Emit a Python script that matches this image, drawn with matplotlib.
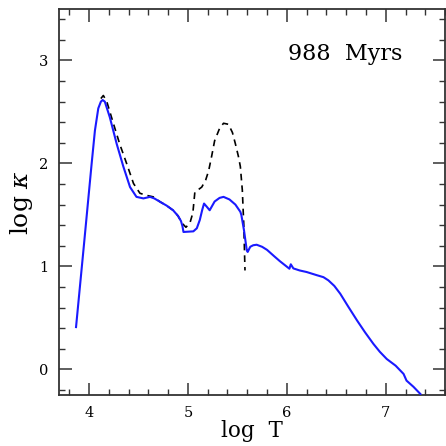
import matplotlib
matplotlib.use("Agg")
import matplotlib.pyplot as plt
from matplotlib.ticker import MultipleLocator

plt.rcParams['mathtext.fontset'] = 'dejavuserif'
plt.rcParams['font.family'] = 'DejaVu Serif'

# Blue solid curve (log T, log kappa)
blue_x = [3.869, 3.95, 4.027, 4.06, 4.094, 4.12, 4.138, 4.16, 4.21, 4.28, 4.347,
          4.415, 4.48, 4.55, 4.617, 4.66, 4.72, 4.785, 4.85, 4.9, 4.93, 4.945, 4.955,
          5.055, 5.09, 5.12, 5.145, 5.163, 5.19, 5.22, 5.27, 5.32, 5.36, 5.42, 5.48,
          5.53, 5.54, 5.567, 5.595, 5.604, 5.63, 5.66, 5.695, 5.75, 5.80, 5.87, 5.93,
          6.026, 6.04, 6.066, 6.13, 6.20, 6.30, 6.37, 6.42, 6.48, 6.54, 6.62, 6.71,
          6.79, 6.875, 6.94, 7.01, 7.10, 7.18, 7.21, 7.28, 7.35]
blue_y = [0.41, 1.22, 2.0, 2.32, 2.535, 2.6, 2.616, 2.6, 2.45, 2.19, 1.97,
          1.77, 1.675, 1.66, 1.675, 1.66, 1.626, 1.59, 1.545, 1.49, 1.44, 1.39, 1.334,
          1.34, 1.37, 1.45, 1.55, 1.61, 1.58, 1.545, 1.63, 1.665, 1.675, 1.65, 1.60,
          1.53, 1.50, 1.35, 1.156, 1.14, 1.19, 1.205, 1.21, 1.19, 1.16, 1.10, 1.05,
          0.977, 1.02, 0.98, 0.96, 0.945, 0.915, 0.895, 0.864, 0.81, 0.734, 0.61, 0.474,
          0.36, 0.247, 0.17, 0.10, 0.035, -0.045, -0.11, -0.17, -0.24]

# Black dashed curve
dash_x = [4.12, 4.145, 4.18, 4.246, 4.31, 4.38, 4.45, 4.515, 4.58, 4.65, 4.72,
          4.785, 4.85, 4.9, 4.94, 4.98, 5.02, 5.05, 5.07, 5.14, 5.18, 5.21, 5.24,
          5.27, 5.32, 5.36, 5.41, 5.45, 5.48, 5.51, 5.53, 5.55, 5.565, 5.577]
dash_y = [2.63, 2.66, 2.60, 2.39, 2.19, 2.0, 1.805, 1.71, 1.69, 1.675, 1.626,
          1.59, 1.545, 1.49, 1.42, 1.38, 1.42, 1.52, 1.72, 1.77, 1.84, 1.93, 2.07,
          2.22, 2.34, 2.39, 2.38, 2.30, 2.19, 2.07, 1.97, 1.74, 1.40, 0.96]

fig = plt.figure(figsize=(4.46, 4.46), dpi=100)
ax = fig.add_axes([0.133, 0.1143, 0.865, 0.8655])

ax.plot(dash_x, dash_y, color='black', lw=1.2, ls=(0, (4, 3)), zorder=2)
ax.plot(blue_x, blue_y, color='#1a1aff', lw=1.5, zorder=3)

ax.set_xlim(3.7, 7.6)
ax.set_ylim(-0.25, 3.5)
ax.xaxis.set_major_locator(MultipleLocator(1))
ax.xaxis.set_minor_locator(MultipleLocator(0.2))
ax.yaxis.set_major_locator(MultipleLocator(1))
ax.yaxis.set_minor_locator(MultipleLocator(0.2))
ax.tick_params(which='both', direction='in', top=True, right=True, color='#333333')
ax.tick_params(which='major', length=9, width=1.1, labelsize=10.5, pad=8)
ax.tick_params(which='minor', length=4.5, width=1.0)
for s in ax.spines.values():
    s.set_linewidth(1.3)
    s.set_color('#333333')

ax.set_xlabel('log  T', fontsize=15.5, labelpad=0)
ax.set_ylabel(r'log $\kappa$', fontsize=18, labelpad=3)
ax.text(0.593, 0.883, '988  Myrs', transform=ax.transAxes, fontsize=16,
        ha='left', va='center')

fig.savefig('out.png', dpi=100)
